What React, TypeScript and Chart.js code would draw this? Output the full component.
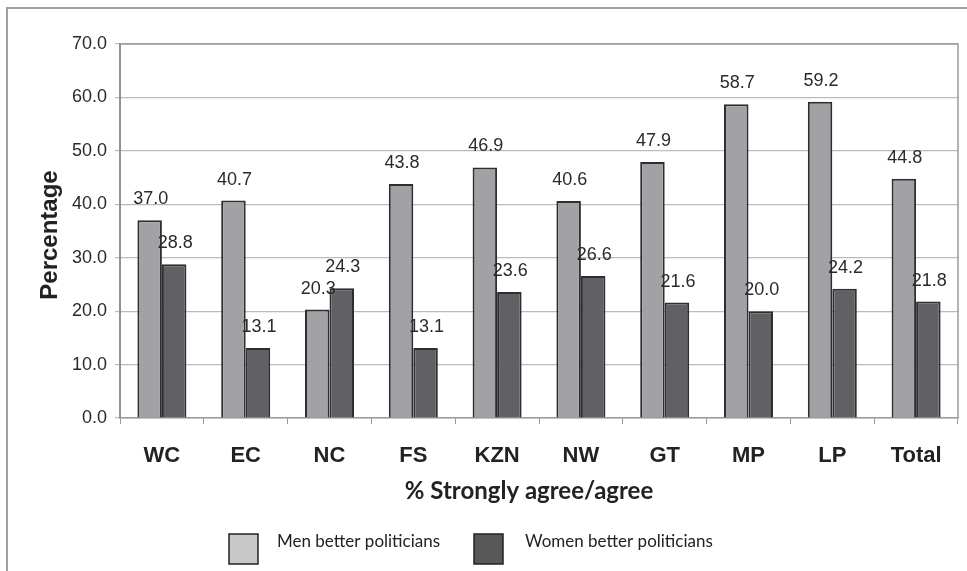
import React, { useEffect, useRef } from "react";
import { Chart, registerables } from "chart.js";

Chart.register(...registerables);

const categories = ["WC", "EC", "NC", "FS", "KZN", "NW", "GT", "MP", "LP", "Total"];
const menValues = [37.0, 40.7, 20.3, 43.8, 46.9, 40.6, 47.9, 58.7, 59.2, 44.8];
const womenValues = [28.8, 13.1, 24.3, 13.1, 23.6, 26.6, 21.6, 20.0, 24.2, 21.8];
const seriesNames = ["Men better politicians", "Women better politicians"];
const yTitle = "Percentage";
const xTitle = "% Strongly agree/agree";

const W = 967;
const H = 571;
const ARIAL = "'Liberation Sans', Arial, sans-serif";
const GILL = "Lato, 'Open Sans', sans-serif";

const decorPlugin = {
  id: "decor",
  beforeDraw(chart: any) {
    const ctx = chart.ctx;
    ctx.save();
    ctx.fillStyle = "#ffffff";
    ctx.fillRect(0, 0, W, H);
    ctx.strokeStyle = "#a0a0a0";
    ctx.lineWidth = 2;
    ctx.beginPath();
    ctx.moveTo(7, H);
    ctx.lineTo(7, 8);
    ctx.lineTo(W, 8);
    ctx.stroke();
    ctx.restore();
  },
  afterDraw(chart: any) {
    const ctx = chart.ctx;
    const a = chart.chartArea;
    ctx.save();
    ctx.strokeStyle = "#999999";
    ctx.lineWidth = 1.5;
    ctx.beginPath();
    ctx.moveTo(a.left, a.top);
    ctx.lineTo(a.right, a.top);
    ctx.lineTo(a.right, a.bottom);
    ctx.stroke();

    ctx.fillStyle = "#222222";
    ctx.font = `bold 24px ${ARIAL}`;
    ctx.textAlign = "center";
    ctx.textBaseline = "middle";
    ctx.save();
    ctx.translate(50, 235);
    ctx.rotate(-Math.PI / 2);
    ctx.fillText(yTitle, 0, 0);
    ctx.restore();

    ctx.font = `bold 24px ${GILL}`;
    ctx.textAlign = "center";
    ctx.textBaseline = "alphabetic";
    ctx.fillText(xTitle, 529, 499);

    const items = [
      { x: 229, fill: "#c8c8c8", text: seriesNames[0], tx: 277 },
      { x: 474, fill: "#585858", text: seriesNames[1], tx: 525 },
    ];
    ctx.font = `17px ${GILL}`;
    ctx.textAlign = "left";
    for (const it of items) {
      ctx.fillStyle = it.fill;
      ctx.fillRect(it.x, 534, 29, 30);
      ctx.strokeStyle = "#222222";
      ctx.lineWidth = 1.5;
      ctx.strokeRect(it.x, 534, 29, 30);
      ctx.fillStyle = "#222222";
      ctx.fillText(it.text, it.tx, 547);
    }
    ctx.restore();
  },
  afterDatasetsDraw(chart: any) {
    const ctx = chart.ctx;
    ctx.save();
    ctx.font = `18px ${ARIAL}`;
    ctx.fillStyle = "#2a2a2a";
    ctx.textAlign = "center";
    ctx.textBaseline = "alphabetic";
    chart.data.datasets.forEach((ds: any, di: number) => {
      const meta = chart.getDatasetMeta(di);
      meta.data.forEach((bar: any, i: number) => {
        const v = ds.data[i] as number;
        ctx.fillText(v.toFixed(1), bar.x + 1, bar.y - 16);
      });
    });
    ctx.restore();
  },
};

export default function App() {
  const ref = useRef<HTMLCanvasElement | null>(null);
  useEffect(() => {
    if (!ref.current) return;
    const chart = new Chart(ref.current, {
      type: "bar",
      data: {
        labels: categories,
        datasets: [
          {
            label: seriesNames[0],
            data: menValues,
            backgroundColor: "#a2a2a6",
            borderColor: "#2e2e2e",
            borderWidth: 2,
            categoryPercentage: 0.585,
            barPercentage: 1.0,
          },
          {
            label: seriesNames[1],
            data: womenValues,
            backgroundColor: "#616165",
            borderColor: "#2e2e2e",
            borderWidth: 2,
            categoryPercentage: 0.585,
            barPercentage: 1.0,
          },
        ],
      },
      options: {
        responsive: false,
        animation: false,
        devicePixelRatio: 1,
        layout: { padding: { left: 0, top: 44, right: 9, bottom: 0 } },
        plugins: {
          legend: { display: false },
          tooltip: { enabled: false },
          title: { display: false },
        },
        scales: {
          x: {
            afterFit(scale: any) {
              scale.height = H - 418;
            },
            grid: {
              drawOnChartArea: false,
              drawTicks: true,
              tickLength: 6,
              color: "#999999",
            },
            border: { color: "#999999", width: 1.5 },
            ticks: {
              color: "#222222",
              font: { family: ARIAL, size: 22, weight: "bold" },
              padding: 19,
            },
          },
          y: {
            min: 0,
            max: 70,
            afterFit(scale: any) {
              scale.width = 120;
            },
            grid: {
              color: "#bbbbbb",
              lineWidth: 1.2,
              drawTicks: true,
              tickLength: 5,
            },
            border: { color: "#909090", width: 2 },
            ticks: {
              stepSize: 10,
              color: "#2a2a2a",
              font: { family: ARIAL, size: 18 },
              padding: 8,
              callback: (v: any) => Number(v).toFixed(1),
            },
          },
        },
      },
      plugins: [decorPlugin],
    });
    return () => chart.destroy();
  }, []);
  return (
    <div style={{ position: "absolute", left: 0, top: 0, width: W, height: H }}>
      <canvas ref={ref} width={W} height={H} style={{ width: W, height: H, display: "block" }} />
    </div>
  );
}
